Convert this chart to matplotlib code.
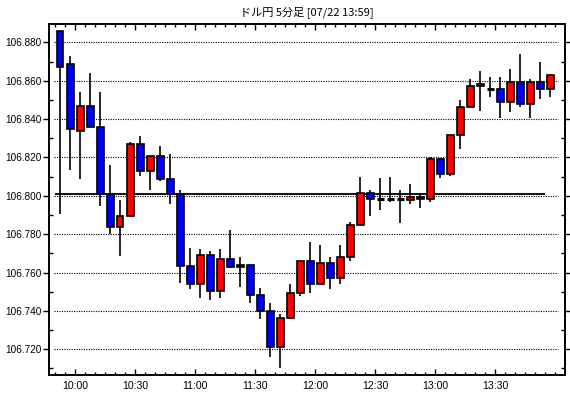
"""USD/JPY 5-minute candlestick chart"""
import pandas as pd
import matplotlib
matplotlib.use('Agg')
import matplotlib.pyplot as plt
from matplotlib.ticker import MultipleLocator

TITLE = 'ドル円 5分足 [07/22 13:59]'
START = '2019-07-22 09:50'

# 5 minute bars, 09:50 .. 13:55
opens = [106.886, 106.869, 106.834, 106.847, 106.836, 106.801, 106.784, 106.7895, 106.827, 106.813,
         106.821, 106.809, 106.801, 106.7636, 106.7539, 106.769, 106.7503, 106.767, 106.7628, 106.7638,
         106.7482, 106.7398, 106.721, 106.7362, 106.7492, 106.7659, 106.7539, 106.7649, 106.757, 106.768,
         106.785, 106.8017, 106.7983, 106.7983, 106.7983, 106.7981, 106.7995, 106.7986, 106.819, 106.8115,
         106.8318, 106.8465, 106.8575, 106.8559, 106.8559, 106.8487, 106.8594, 106.8477, 106.8594, 106.8559]
highs = [106.886, 106.873, 106.854, 106.864, 106.854, 106.816, 106.798, 106.828, 106.831, 106.821,
         106.826, 106.8216, 106.803, 106.7729, 106.7723, 106.7713, 106.7723, 106.7823, 106.7682, 106.7638,
         106.7518, 106.744, 106.7383, 106.7539, 106.7659, 106.776, 106.7744, 106.7682, 106.7744, 106.7863,
         106.8097, 106.803, 106.8092, 106.8097, 106.803, 106.8061, 106.8017, 106.820, 106.819, 106.8318,
         106.8498, 106.8608, 106.865, 106.8618, 106.8618, 106.866, 106.8739, 106.8608, 106.8697, 106.863]
lows = [106.7905, 106.8136, 106.809, 106.836, 106.7945, 106.780, 106.7686, 106.7895, 106.8106, 106.8028,
        106.808, 106.7957, 106.7547, 106.7516, 106.747, 106.7459, 106.747, 106.7623, 106.7527, 106.744,
        106.736, 106.7158, 106.710, 106.7362, 106.748, 106.7492, 106.7539, 106.7513, 106.7539, 106.7659,
        106.785, 106.7896, 106.7927, 106.797, 106.7859, 106.796, 106.7937, 106.7969, 106.8094, 106.8101,
        106.8245, 106.8465, 106.8442, 106.8515, 106.8405, 106.8438, 106.8465, 106.8405, 106.8505, 106.8515]
closes = [106.867, 106.835, 106.847, 106.836, 106.801, 106.784, 106.7895, 106.827, 106.813, 106.821,
          106.809, 106.801, 106.7636, 106.7538, 106.769, 106.7503, 106.767, 106.7628, 106.7638, 106.7482,
          106.7398, 106.721, 106.7362, 106.7492, 106.7659, 106.7539, 106.7649, 106.757, 106.768, 106.785,
          106.8017, 106.7986, 106.7983, 106.7983, 106.7983, 106.7995, 106.7986, 106.819, 106.8115, 106.8318,
          106.8465, 106.8575, 106.8585, 106.8559, 106.8487, 106.8594, 106.8477, 106.8594, 106.8559, 106.863]

REF_LEVEL = 106.8011
TIME_TICKS = ['10:00', '10:30', '11:00', '11:30', '12:00', '12:30', '13:00', '13:30']

df = pd.DataFrame({'open': opens, 'high': highs, 'low': lows, 'close': closes},
                  index=pd.date_range(START, periods=len(opens), freq='5min'))
t0 = df.index[0]
# minutes since first bar, centred on each bar
df['x'] = (df.index - t0).total_seconds() / 60 + 2.5

fig = plt.figure(figsize=(5.7, 3.98), dpi=100)
ax = fig.add_axes([49.3 / 570, 1 - 375 / 398, (565 - 49.3) / 570, (375 - 24) / 398])

# grid + reference line
for v in [106.72, 106.74, 106.76, 106.78, 106.80, 106.82, 106.84, 106.86, 106.88]:
    ax.axhline(v, xmin=0.01, xmax=0.986, color='black', lw=0.8, ls=(0, (1, 1.2)), zorder=1)
ax.hlines(REF_LEVEL, 0, 245, color='black', lw=1.3, zorder=1)

# wicks
ax.vlines(df['x'], df['low'], df['high'], color='black', lw=1.2, zorder=2)

# bodies
up = df['close'] > df['open']
down = df['close'] < df['open']
flat = df['close'] == df['open']
bw = 3.2
ax.bar(df.loc[up, 'x'], df.loc[up, 'close'] - df.loc[up, 'open'], bottom=df.loc[up, 'open'],
       width=bw, color='#ff0000', edgecolor='black', lw=1.2, zorder=3)
ax.bar(df.loc[down, 'x'], df.loc[down, 'open'] - df.loc[down, 'close'], bottom=df.loc[down, 'close'],
       width=bw, color='#0000ff', edgecolor='black', lw=1.2, zorder=3)
ax.hlines(df.loc[flat, 'close'], df.loc[flat, 'x'] - bw / 2, df.loc[flat, 'x'] + bw / 2,
          color='black', lw=2.2, zorder=3)

ax.set_xlim(-3, 254.85)
ax.set_ylim(106.7066, 106.8896)

tick_pos = [((pd.Timestamp('2019-07-22 ' + t) - t0).total_seconds() / 60) for t in TIME_TICKS]
ax.set_xticks(tick_pos)
ax.set_xticklabels(TIME_TICKS)
ax.xaxis.set_minor_locator(MultipleLocator(5))
ax.yaxis.set_major_locator(MultipleLocator(0.02))
ax.yaxis.set_minor_locator(MultipleLocator(0.01))
ax.yaxis.set_major_formatter(plt.FuncFormatter(lambda v, p: '{:.3f}'.format(v)))

for lab in ax.get_xticklabels():
    lab.set_fontfamily('Liberation Sans')
    lab.set_fontsize(7.6)
for lab in ax.get_yticklabels():
    lab.set_fontfamily('Liberation Sans')
    lab.set_fontsize(7.2)

ax.tick_params(axis='x', which='major', direction='in', length=4, width=1, top=True, pad=4)
ax.tick_params(axis='x', which='minor', direction='in', length=2, width=1, top=True)
ax.tick_params(axis='y', which='major', direction='out', length=4.5, width=1, pad=1,
               right=True)
ax.tick_params(axis='y', which='minor', direction='in', length=3, width=1, right=True)
for sp in ax.spines.values():
    sp.set_linewidth(1.4)

fig.text((49.3 + 565) / 2 / 570, 1 - 12.5 / 398, TITLE, ha='center', va='center',
         fontsize=8, family=['Noto Sans CJK JP', 'DejaVu Sans'])

fig.savefig('out.png', dpi=100)
